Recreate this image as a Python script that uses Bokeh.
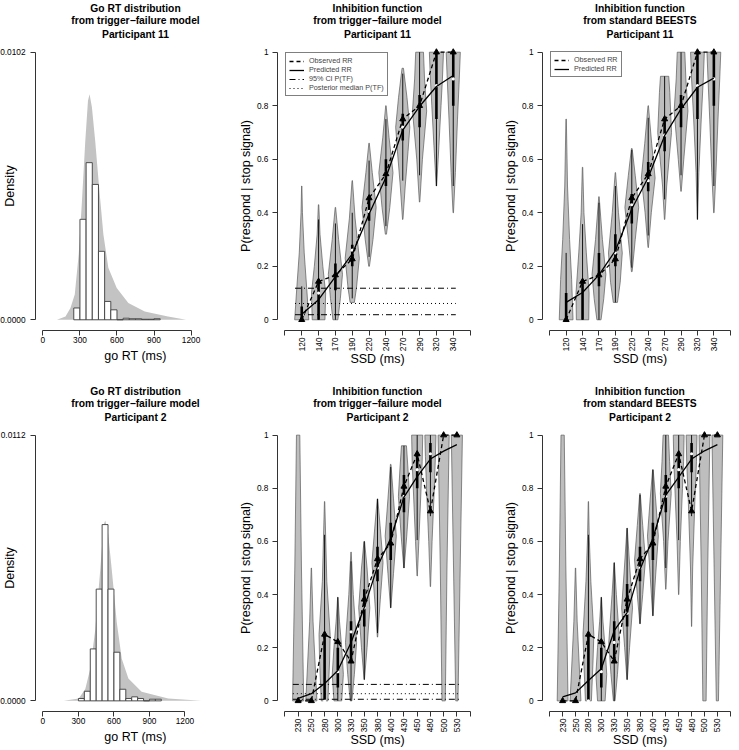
import math
from bokeh.plotting import figure
from bokeh.layouts import column, row
from bokeh.models import Range1d, FixedTicker, Legend, LegendItem, NumeralTickFormatter, Title
from bokeh.embed import file_html
from bokeh.resources import INLINE

# ------------------------------------------------------------------ data
# Go RT distributions (histogram densities, bin width 50 ms)
bin_width = 50
tl_bin_left = [250, 300, 350, 400, 450, 500, 550, 600, 650, 700, 750, 800, 850, 900]
tl_density = [0.00045, 0.00383, 0.00599, 0.00516, 0.00261, 0.00070, 0.00038,
              0.0, 0.00006, 0.00004, 0.00004, 0.00002, 0.00002, 0.00004]
tl_band_x = [114, 183, 223, 258, 290, 316, 343, 365, 378, 397, 424, 456, 490, 530,
             598, 692, 825, 1013, 1160]
tl_band_hi = [0, 0.00013, 0.00045, 0.00096, 0.0025, 0.0045, 0.0068, 0.00835, 0.0086,
              0.0081, 0.0068, 0.0050, 0.00325, 0.00198, 0.00121, 0.00064, 0.00032,
              0.00013, 0]
tl_xlim = [0, 1500]
tl_ymax = 0.0102

bl_bin_left = [300, 350, 400, 450, 500, 550, 600, 650, 700, 750, 800, 850, 900, 950]
bl_density = [0.0001, 0.000405, 0.00219, 0.00471, 0.00743, 0.00471, 0.00205,
              0.00049, 0.0001, 0.00017, 0.0001, 0.0, 0.00007, 0.00007]
bl_band_x = [177, 303, 358, 400, 442, 484, 512, 526, 548, 582, 624, 666, 722, 834,
             1058, 1337]
bl_band_hi = [0, 0.0001, 0.0005, 0.00135, 0.003, 0.0055, 0.0074, 0.0076, 0.0072,
              0.0055, 0.0033, 0.00177, 0.00094, 0.00038, 0.0001, 0]
bl_xlim = [0, 1564]
bl_ymax = 0.0112
go_xticks = [0, 300, 600, 900, 1200]

# Participant 11 inhibition functions
p11_ssd = [120, 140, 170, 190, 220, 240, 270, 290, 320, 340]
p11_obs = [0.0, 0.143, 0.167, 0.227, 0.455, 0.545, 0.75, 0.8, 1.0, 1.0]
tm_pred = [0.021, 0.075, 0.161, 0.246, 0.395, 0.532, 0.709, 0.798, 0.872, 0.913]
tm_med = [0.0, 0.1, 0.167, 0.26, 0.405, 0.55, 0.72, 0.8, 0.875, 0.9]
tm_q1 = [0.0, 0.0, 0.11, 0.2, 0.37, 0.5, 0.67, 0.72, 0.75, 0.8]
tm_q3 = [0.05, 0.15, 0.21, 0.28, 0.46, 0.6, 0.77, 0.84, 1.0, 1.0]
tm_vy = [[0, 0.1, 0.25, 0.4, 0.5], [0, 0.1, 0.2, 0.32, 0.43], [0, 0.08, 0.17, 0.3, 0.42],
         [0.065, 0.12, 0.23, 0.38, 0.52], [0.2, 0.3, 0.42, 0.55, 0.66],
         [0.32, 0.42, 0.55, 0.68, 0.8], [0.375, 0.5, 0.63, 0.72, 0.83, 0.94],
         [0.44, 0.6, 0.78, 0.9, 1.0], [0.5, 0.65, 0.8, 0.9, 1.0], [0.4, 0.55, 0.75, 0.9, 1.0]]
tm_vw = [[1.0, 0.75, 0.35, 0.1, 0.02], [0.9, 1.0, 0.6, 0.2, 0.03], [0.35, 0.7, 1.0, 0.45, 0.03],
         [0.3, 0.6, 1.0, 0.4, 0.03], [0.05, 0.55, 1.0, 0.45, 0.03], [0.08, 0.55, 1.0, 0.45, 0.03],
         [0.03, 0.35, 0.75, 1.0, 0.6, 0.1], [0.03, 0.4, 1.0, 0.7, 0.55],
         [0.03, 0.35, 0.65, 0.85, 1.0], [0.03, 0.3, 0.6, 0.85, 1.0]]
tm_tf_ci = [0.019, 0.118]
tm_tf_med = 0.061

tr_pred = [0.065, 0.102, 0.168, 0.258, 0.414, 0.532, 0.688, 0.788, 0.869, 0.903]
tr_med = [0.0, 0.143, 0.167, 0.25, 0.43, 0.52, 0.69, 0.8, 0.875, 0.9]
tr_q1 = [0.0, 0.0, 0.125, 0.2, 0.36, 0.48, 0.63, 0.72, 0.75, 0.8]
tr_q3 = [0.1, 0.143, 0.25, 0.32, 0.47, 0.59, 0.75, 0.84, 1.0, 1.0]
tr_vy = [[0, 0.15, 0.3, 0.5, 0.75], [0, 0.1, 0.25, 0.4, 0.57], [0, 0.08, 0.17, 0.3, 0.46],
         [0.065, 0.14, 0.25, 0.4, 0.55], [0.18, 0.3, 0.42, 0.54, 0.64],
         [0.27, 0.4, 0.53, 0.66, 0.8], [0.375, 0.5, 0.7, 0.85, 0.91],
         [0.48, 0.6, 0.78, 0.9, 1.0], [0.375, 0.55, 0.75, 0.9, 1.0], [0.4, 0.55, 0.75, 0.9, 1.0]]
tr_vw = [[1.0, 0.8, 0.5, 0.2, 0.03], [0.9, 0.95, 0.55, 0.2, 0.03], [0.3, 0.7, 1.0, 0.5, 0.03],
         [0.3, 0.7, 1.0, 0.45, 0.03], [0.05, 0.5, 1.0, 0.5, 0.05], [0.03, 0.45, 1.0, 0.5, 0.03],
         [0.03, 0.3, 1.0, 0.75, 0.6], [0.03, 0.4, 1.0, 0.7, 0.55],
         [0.02, 0.2, 0.55, 0.85, 1.0], [0.03, 0.3, 0.6, 0.85, 1.0]]

# Participant 2 inhibition functions
p2_ssd = [230, 250, 280, 300, 330, 350, 380, 400, 430, 450, 480, 500, 530]
p2_obs = [0.0, 0.0, 0.25, 0.222, 0.149, 0.382, 0.534, 0.593, 0.807, 0.929, 0.714, 1.0, 1.0]
bm_pred = [0.009, 0.027, 0.065, 0.114, 0.22, 0.351, 0.506, 0.612, 0.767, 0.844, 0.91, 0.94, 0.964]
bm_med = [0.0, 0.0, 0.0, 0.11, 0.26, 0.35, 0.5, 0.6, 0.77, 0.87, 0.93, 1.0, 1.0]
bm_q1 = [0.0, 0.0, 0.0, 0.05, 0.15, 0.28, 0.45, 0.53, 0.71, 0.8, 0.86, 1.0, 1.0]
bm_q3 = [0.0, 0.0, 0.25, 0.2, 0.3, 0.42, 0.58, 0.67, 0.85, 0.93, 0.97, 1.0, 1.0]
bm_vy = [[0, 0.5, 1.0], [0, 0.15, 0.3, 0.5], [0, 0.15, 0.25, 0.45, 0.75],
         [0, 0.1, 0.2, 0.3, 0.39], [0, 0.1, 0.22, 0.4, 0.56], [0.08, 0.2, 0.35, 0.5, 0.6],
         [0.24, 0.38, 0.52, 0.65, 0.76], [0.35, 0.48, 0.62, 0.76, 0.89],
         [0.5, 0.62, 0.77, 0.88, 0.96], [0.47, 0.6, 0.8, 0.9, 1.0], [0.43, 0.6, 0.8, 0.92, 1.0],
         [0, 0.5, 1.0], [0, 0.5, 1.0]]
bm_vw = [[1.0, 0.6, 0.3], [1.0, 0.65, 0.3, 0.03], [0.6, 0.9, 1.0, 0.4, 0.03],
         [0.7, 1.0, 0.7, 0.3, 0.03], [0.15, 0.6, 1.0, 0.4, 0.03], [0.03, 0.5, 1.0, 0.5, 0.05],
         [0.03, 0.5, 1.0, 0.5, 0.05], [0.03, 0.5, 1.0, 0.5, 0.05], [0.03, 0.5, 1.0, 0.7, 0.45],
         [0.03, 0.3, 0.7, 0.9, 1.0], [0.03, 0.3, 0.7, 0.9, 1.0], [0.3, 0.6, 1.0], [0.2, 0.6, 1.0]]
bm_tf_ci = [0.006, 0.062]
bm_tf_med = 0.027

br_pred = [0.015, 0.03, 0.077, 0.121, 0.264, 0.332, 0.494, 0.612, 0.774, 0.842, 0.91, 0.941, 0.964]
br_med = [0.0, 0.0, 0.0, 0.11, 0.22, 0.33, 0.5, 0.6, 0.77, 0.87, 0.93, 1.0, 1.0]
br_q1 = [0.0, 0.0, 0.0, 0.05, 0.15, 0.28, 0.45, 0.53, 0.71, 0.8, 0.86, 1.0, 1.0]
br_q3 = [0.0, 0.0, 0.25, 0.2, 0.3, 0.44, 0.58, 0.67, 0.85, 0.93, 0.97, 1.0, 1.0]
br_vy = [[0, 0.5, 1.0], [0, 0.15, 0.3, 0.5], [0, 0.15, 0.25, 0.45, 0.62, 0.75],
         [0, 0.1, 0.2, 0.3, 0.39], [0, 0.1, 0.22, 0.4, 0.52], [0.08, 0.2, 0.35, 0.5, 0.65],
         [0.29, 0.4, 0.53, 0.66, 0.78], [0.32, 0.47, 0.62, 0.76, 0.87],
         [0.42, 0.6, 0.78, 0.9, 1.0], [0.4, 0.6, 0.8, 0.9, 1.0], [0.28, 0.5, 0.75, 0.9, 1.0],
         [0, 0.5, 1.0], [0, 0.5, 1.0]]
br_vw = [[1.0, 0.6, 0.3], [1.0, 0.65, 0.3, 0.03], [0.55, 0.85, 1.0, 0.45, 0.15, 0.03],
         [0.7, 1.0, 0.7, 0.3, 0.03], [0.15, 0.6, 1.0, 0.4, 0.03], [0.03, 0.45, 1.0, 0.5, 0.03],
         [0.03, 0.5, 1.0, 0.5, 0.05], [0.03, 0.5, 1.0, 0.5, 0.05], [0.03, 0.4, 1.0, 0.7, 0.5],
         [0.03, 0.3, 0.7, 0.9, 1.0], [0.02, 0.2, 0.6, 0.9, 1.0], [0.3, 0.6, 1.0], [0.2, 0.6, 1.0]]

prob_ticks = [0, 0.2, 0.4, 0.6, 0.8, 1.0]

# ------------------------------------------------------------------ style
FONT = "Liberation Sans"
TICK_FS = "8.3px"
LAB_FS = "12.5px"
TITLE_FS = "10.3px"
LEG_FS = "7.2px"
AX_COL = "#333333"
HW = 0.42  # violin max half width (category units)
TITLE_STANDOFFS = [3, -1, -1]  # closest line first

COLS = [dict(w=235, bl=33, br=0), dict(w=265, bl=37, br=23), dict(w=239, bl=33, br=2)]
ROWS = [dict(h=383, bt=41, bb=53), dict(h=367, bt=41, bb=37)]


def base_fig(ci, ri, xr, yr, title_lines):
    c, r = COLS[ci], ROWS[ri]
    p = figure(width=c["w"], height=r["h"], x_range=xr, y_range=yr, title=None,
               output_backend="svg", toolbar_location=None,
               min_border_left=c["bl"], min_border_right=c["br"],
               min_border_top=r["bt"], min_border_bottom=r["bb"])
    p.grid.visible = False
    p.outline_line_color = None
    p.background_fill_color = "white"
    p.border_fill_color = "white"
    for i, line in enumerate(reversed(title_lines)):
        t = Title(text=line, align="center", text_font=FONT, text_font_size=TITLE_FS,
                  text_font_style="bold", text_color="black",
                  standoff=TITLE_STANDOFFS[i], offset=0)
        p.add_layout(t, "above")
    for ax in (p.xaxis[0], p.yaxis[0]):
        ax.axis_line_color = AX_COL
        ax.axis_line_width = 1
        ax.major_tick_line_color = AX_COL
        ax.major_tick_out = 5
        ax.major_tick_in = 0
        ax.minor_tick_line_color = None
        ax.major_label_text_font = FONT
        ax.major_label_text_font_size = TICK_FS
        ax.major_label_text_color = "black"
        ax.major_label_text_line_height = 1.0
        ax.axis_label_text_font = FONT
        ax.axis_label_text_font_size = LAB_FS
        ax.axis_label_text_font_style = "normal"
        ax.axis_label_text_color = "black"
    p.xaxis[0].axis_label_text_line_height = 1.0
    p.yaxis[0].axis_label_text_line_height = 0.9
    return p


def density_panel(ci, ri, title_lines, xlim, ymax, band_x, band_hi, bin_left, dens):
    pad = 0.04 * (xlim[1] - xlim[0])
    xr = Range1d(xlim[0] - pad, xlim[1] + pad)
    yr = Range1d(-0.04 * ymax, 1.04 * ymax)
    p = base_fig(ci, ri, xr, yr, title_lines)
    p.varea(x=band_x, y1=[0] * len(band_x), y2=band_hi, fill_color="#c3c3c3")
    p.quad(left=bin_left, right=[b + bin_width for b in bin_left],
           bottom=[0] * len(bin_left), top=dens,
           fill_color="white", line_color="#3c3c3c", line_width=0.9)
    xa, ya = p.xaxis[0], p.yaxis[0]
    xa.ticker = FixedTicker(ticks=go_xticks)
    xa.bounds = (go_xticks[0], go_xticks[-1])
    xa.major_label_standoff = 1
    xa.axis_label = "go RT (ms)"
    xa.axis_label_standoff = 3
    ya.ticker = FixedTicker(ticks=[0, ymax])
    ya.bounds = (0, ymax)
    ya.formatter = NumeralTickFormatter(format="0.0000")
    ya.major_label_standoff = 5
    ya.axis_label = "Density"
    ya.axis_label_standoff = -20
    return p


def violin_panel(ci, ri, title_lines, ssd, obs, pred, med, q1, q3, vy, vw, tf=None):
    c, r = COLS[ci], ROWS[ri]
    fw = c["w"] - c["bl"] - c["br"]
    fh = r["h"] - r["bt"] - r["bb"]
    n = len(ssd)
    pos = list(range(1, n + 1))
    xr = Range1d(-0.04 * (n + 1), 1.04 * (n + 1))
    yr = Range1d(-0.04, 1.04)
    p = base_fig(ci, ri, xr, yr, title_lines)

    xs, ys = [], []
    for k in range(n):
        cx = pos[k]
        xs.append([cx + w * HW for w in vw[k]] + [cx - w * HW for w in reversed(vw[k])])
        ys.append(list(vy[k]) + list(reversed(vy[k])))
    p.patches(xs, ys, fill_color="#bebebe", line_color="#5a5a5a", line_width=0.7)

    wlo = [max(vy[k][0], q1[k] - 1.5 * (q3[k] - q1[k])) for k in range(n)]
    whi = [min(vy[k][-1], q3[k] + 1.5 * (q3[k] - q1[k])) for k in range(n)]
    p.segment(x0=pos, y0=wlo, x1=pos, y1=whi, line_color="black", line_width=0.9)
    p.segment(x0=pos, y0=q1, x1=pos, y1=q3, line_color="black", line_width=2.6)
    p.scatter(pos, med, marker="circle", size=3.2, fill_color="white", line_color=None)

    if tf is not None:
        ci_vals, med_tf = tf
        x0, x1 = pos[0] - 0.4, pos[-1] + 0.15
        r_ci = p.multi_line(xs=[[x0, x1], [x0, x1]],
                            ys=[[ci_vals[0], ci_vals[0]], [ci_vals[1], ci_vals[1]]],
                            line_color="black", line_width=1, line_dash="6 3 1 3")
        r_md = p.line([x0, x1], [med_tf, med_tf], line_color="black", line_width=1,
                      line_dash="1 3")
    r_pred = p.line(pos, pred, line_color="black", line_width=1.3)
    r_obs = p.line(pos, obs, line_color="black", line_width=1.3, line_dash="4 3")
    p.scatter(pos, obs, marker="triangle", size=6, fill_color="black", line_color="black")

    items = [LegendItem(label="Observed RR", renderers=[r_obs]),
             LegendItem(label="Predicted RR", renderers=[r_pred])]
    if tf is not None and ri == 0:
        items += [LegendItem(label="95% CI P(TF)", renderers=[r_ci]),
                  LegendItem(label="Posterior median P(TF)", renderers=[r_md])]
    if ri == 0:
        item_h = 8
        pad = 3
        lh = len(items) * 9.6 + 2 * pad
        lx = (0 - xr.start) / (xr.end - xr.start) * fw
        ly_top = (1 - yr.start) / (yr.end - yr.start) * fh
        leg = Legend(items=items, location=(int(round(lx)), int(round(ly_top - lh))))
        leg.label_text_font = FONT
        leg.label_text_font_size = LEG_FS
        leg.glyph_width = 15
        leg.glyph_height = item_h
        leg.label_height = item_h
        leg.label_standoff = 5
        leg.padding = pad
        leg.spacing = 0
        leg.margin = 0
        leg.border_line_color = "black"
        leg.border_line_width = 0.8
        leg.background_fill_alpha = 1
        p.add_layout(leg)

    xa, ya = p.xaxis[0], p.yaxis[0]
    xa.ticker = FixedTicker(ticks=list(range(0, n + 2)))
    overrides = {0: "", n + 1: ""}
    for k in range(n):
        overrides[pos[k]] = str(ssd[k])
    xa.major_label_overrides = overrides
    xa.major_label_orientation = math.pi / 2
    xa.bounds = (0, n + 1)
    xa.major_label_standoff = 2
    xa.axis_label = "SSD (ms)"
    xa.axis_label_standoff = -2
    ya.ticker = FixedTicker(ticks=prob_ticks)
    ya.bounds = (0, 1)
    ya.major_label_overrides = {0: "0", 1: "1"}
    ya.major_label_standoff = 4
    ya.axis_label = "P(respond | stop signal)"
    ya.axis_label_standoff = 1
    return p


tl = density_panel(0, 0, ["Go RT distribution", "from trigger−failure model", "Participant 11"],
                   tl_xlim, tl_ymax, tl_band_x, tl_band_hi, tl_bin_left, tl_density)
tm = violin_panel(1, 0, ["Inhibition function", "from trigger−failure model", "Participant 11"],
                  p11_ssd, p11_obs, tm_pred, tm_med, tm_q1, tm_q3, tm_vy, tm_vw,
                  tf=(tm_tf_ci, tm_tf_med))
tr = violin_panel(2, 0, ["Inhibition function", "from standard BEESTS", "Participant 11"],
                  p11_ssd, p11_obs, tr_pred, tr_med, tr_q1, tr_q3, tr_vy, tr_vw)
bl = density_panel(0, 1, ["Go RT distribution", "from trigger−failure model", "Participant 2"],
                   bl_xlim, bl_ymax, bl_band_x, bl_band_hi, bl_bin_left, bl_density)
bm = violin_panel(1, 1, ["Inhibition function", "from trigger−failure model", "Participant 2"],
                  p2_ssd, p2_obs, bm_pred, bm_med, bm_q1, bm_q3, bm_vy, bm_vw,
                  tf=(bm_tf_ci, bm_tf_med))
br = violin_panel(2, 1, ["Inhibition function", "from standard BEESTS", "Participant 2"],
                  p2_ssd, p2_obs, br_pred, br_med, br_q1, br_q3, br_vy, br_vw)

layout = column(row(tl, tm, tr), row(bl, bm, br))
open("out.html", "w").write(file_html(layout, INLINE))
